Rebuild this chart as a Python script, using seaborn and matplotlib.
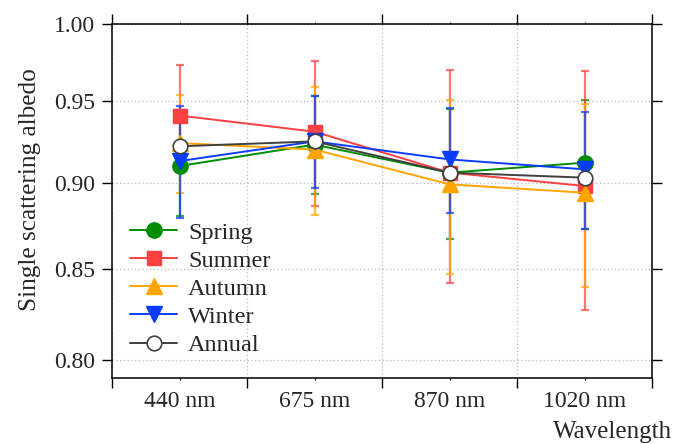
import numpy as np
import pandas as pd
import matplotlib
matplotlib.use("Agg")
import matplotlib.pyplot as plt
import matplotlib.ticker as mticker
import seaborn as sns

# ---- data ----
wavelengths = ["440 nm", "675 nm", "870 nm", "1020 nm"]
spring = [0.910, 0.923, 0.906, 0.912]
spring_err = [0.030, 0.030, 0.039, 0.039]
summer = [0.941, 0.931, 0.906, 0.898]
summer_err = [0.032, 0.045, 0.064, 0.071]
autumn = [0.924, 0.920, 0.899, 0.894]
autumn_err = [0.030, 0.039, 0.052, 0.054]
winter = [0.913, 0.925, 0.914, 0.908]
winter_err = [0.034, 0.028, 0.032, 0.035]
annual = [0.922, 0.925, 0.906, 0.903]
yticks = [0.80, 0.85, 0.90, 0.95, 1.00]

sns.set_style("ticks")
plt.rcParams["font.family"] = ["Liberation Serif", "DejaVu Serif"]
plt.rcParams["mathtext.fontset"] = "stix"

FS = 17
fig = plt.figure(figsize=(6.74, 4.44), dpi=100)
ax = fig.add_axes([112/674, 66/444, 540/674, 354/444])

pos = np.arange(len(wavelengths))
series = [
    ("Spring", spring, spring_err, "#008c00", "o", 11, "#008c00"),
    ("Summer", summer, summer_err, "#ff4040", "s", 10.5, "#ff4040"),
    ("Autumn", autumn, autumn_err, "#ffa500", "^", 11.5, "#ffa500"),
    ("Winter", winter, winter_err, "#0a3cff", "v", 11.5, "#0a3cff"),
    ("Annual", annual, None, "#404040", "o", 10.5, "white"),
]

# error bars underneath
for i, (name, vals, err, col, mk, ms, fc) in enumerate(series):
    if err is not None:
        ax.errorbar(pos, vals, yerr=err, fmt="none", ecolor=col, elinewidth=1.6,
                    capsize=2.8, capthick=1.6, alpha=0.72, zorder=2 + i * 0.1)

for i, (name, vals, err, col, mk, ms, fc) in enumerate(series):
    df = pd.DataFrame({"x": pos, "y": vals})
    sns.lineplot(data=df, x="x", y="y", ax=ax, color=col, marker=mk, markersize=ms,
                 markerfacecolor=fc, markeredgecolor=col, markeredgewidth=1.0 if name != "Annual" else 1.2,
                 linewidth=1.4, label=name, zorder=5 + i, sort=False)

ax.set_yscale("log")
ax.set_ylim(0.7905, 1.0)
ax.set_xlim(-0.5, 3.5)
ax.yaxis.set_major_locator(mticker.FixedLocator(yticks))
ax.yaxis.set_major_formatter(mticker.FormatStrFormatter("%.2f"))
ax.yaxis.set_minor_locator(mticker.NullLocator())
ax.set_xticks(pos)
ax.set_xticklabels(wavelengths)
ax.xaxis.set_minor_locator(mticker.FixedLocator(np.arange(-0.5, 4.0, 1.0)))

ax.tick_params(axis="y", which="major", direction="out", length=7.5, width=1.0,
               left=True, right=True, labelleft=True, labelright=False,
               labelsize=FS, pad=5, color="black")
ax.tick_params(axis="x", which="major", direction="out", length=1.5, width=0.8,
               top=True, bottom=True, labelsize=FS, pad=8, color="black")
ax.tick_params(axis="x", which="minor", direction="out", length=7.5, width=1.0,
               top=True, bottom=True, color="black")

for s in ax.spines.values():
    s.set_color("black")
    s.set_linewidth(1.1)

ax.grid(False)
ax.grid(axis="y", which="major", color="#b8b8b8", linestyle=(0, (1, 2)), linewidth=0.9)
ax.grid(axis="x", which="minor", color="#b8b8b8", linestyle=(0, (1, 2)), linewidth=0.9)
ax.set_axisbelow(True)

ax.set_ylabel("Single scattering albedo", fontsize=18.2)
ax.yaxis.label.set_va("center")
ax.yaxis.set_label_coords(-0.152, 0.531)
ax.set_xlabel("Wavelength", fontsize=18)
ax.xaxis.label.set_ha("right")
ax.xaxis.label.set_va("center")
ax.xaxis.set_label_coords(1.037, -0.1525)

leg = ax.legend(loc="lower left", bbox_to_anchor=(0.033, 0.062), frameon=False,
                fontsize=17.5, handlelength=1.95, handletextpad=0.45, labelspacing=0.25,
                borderpad=0, borderaxespad=0)

fig.savefig("out.png", dpi=100)
